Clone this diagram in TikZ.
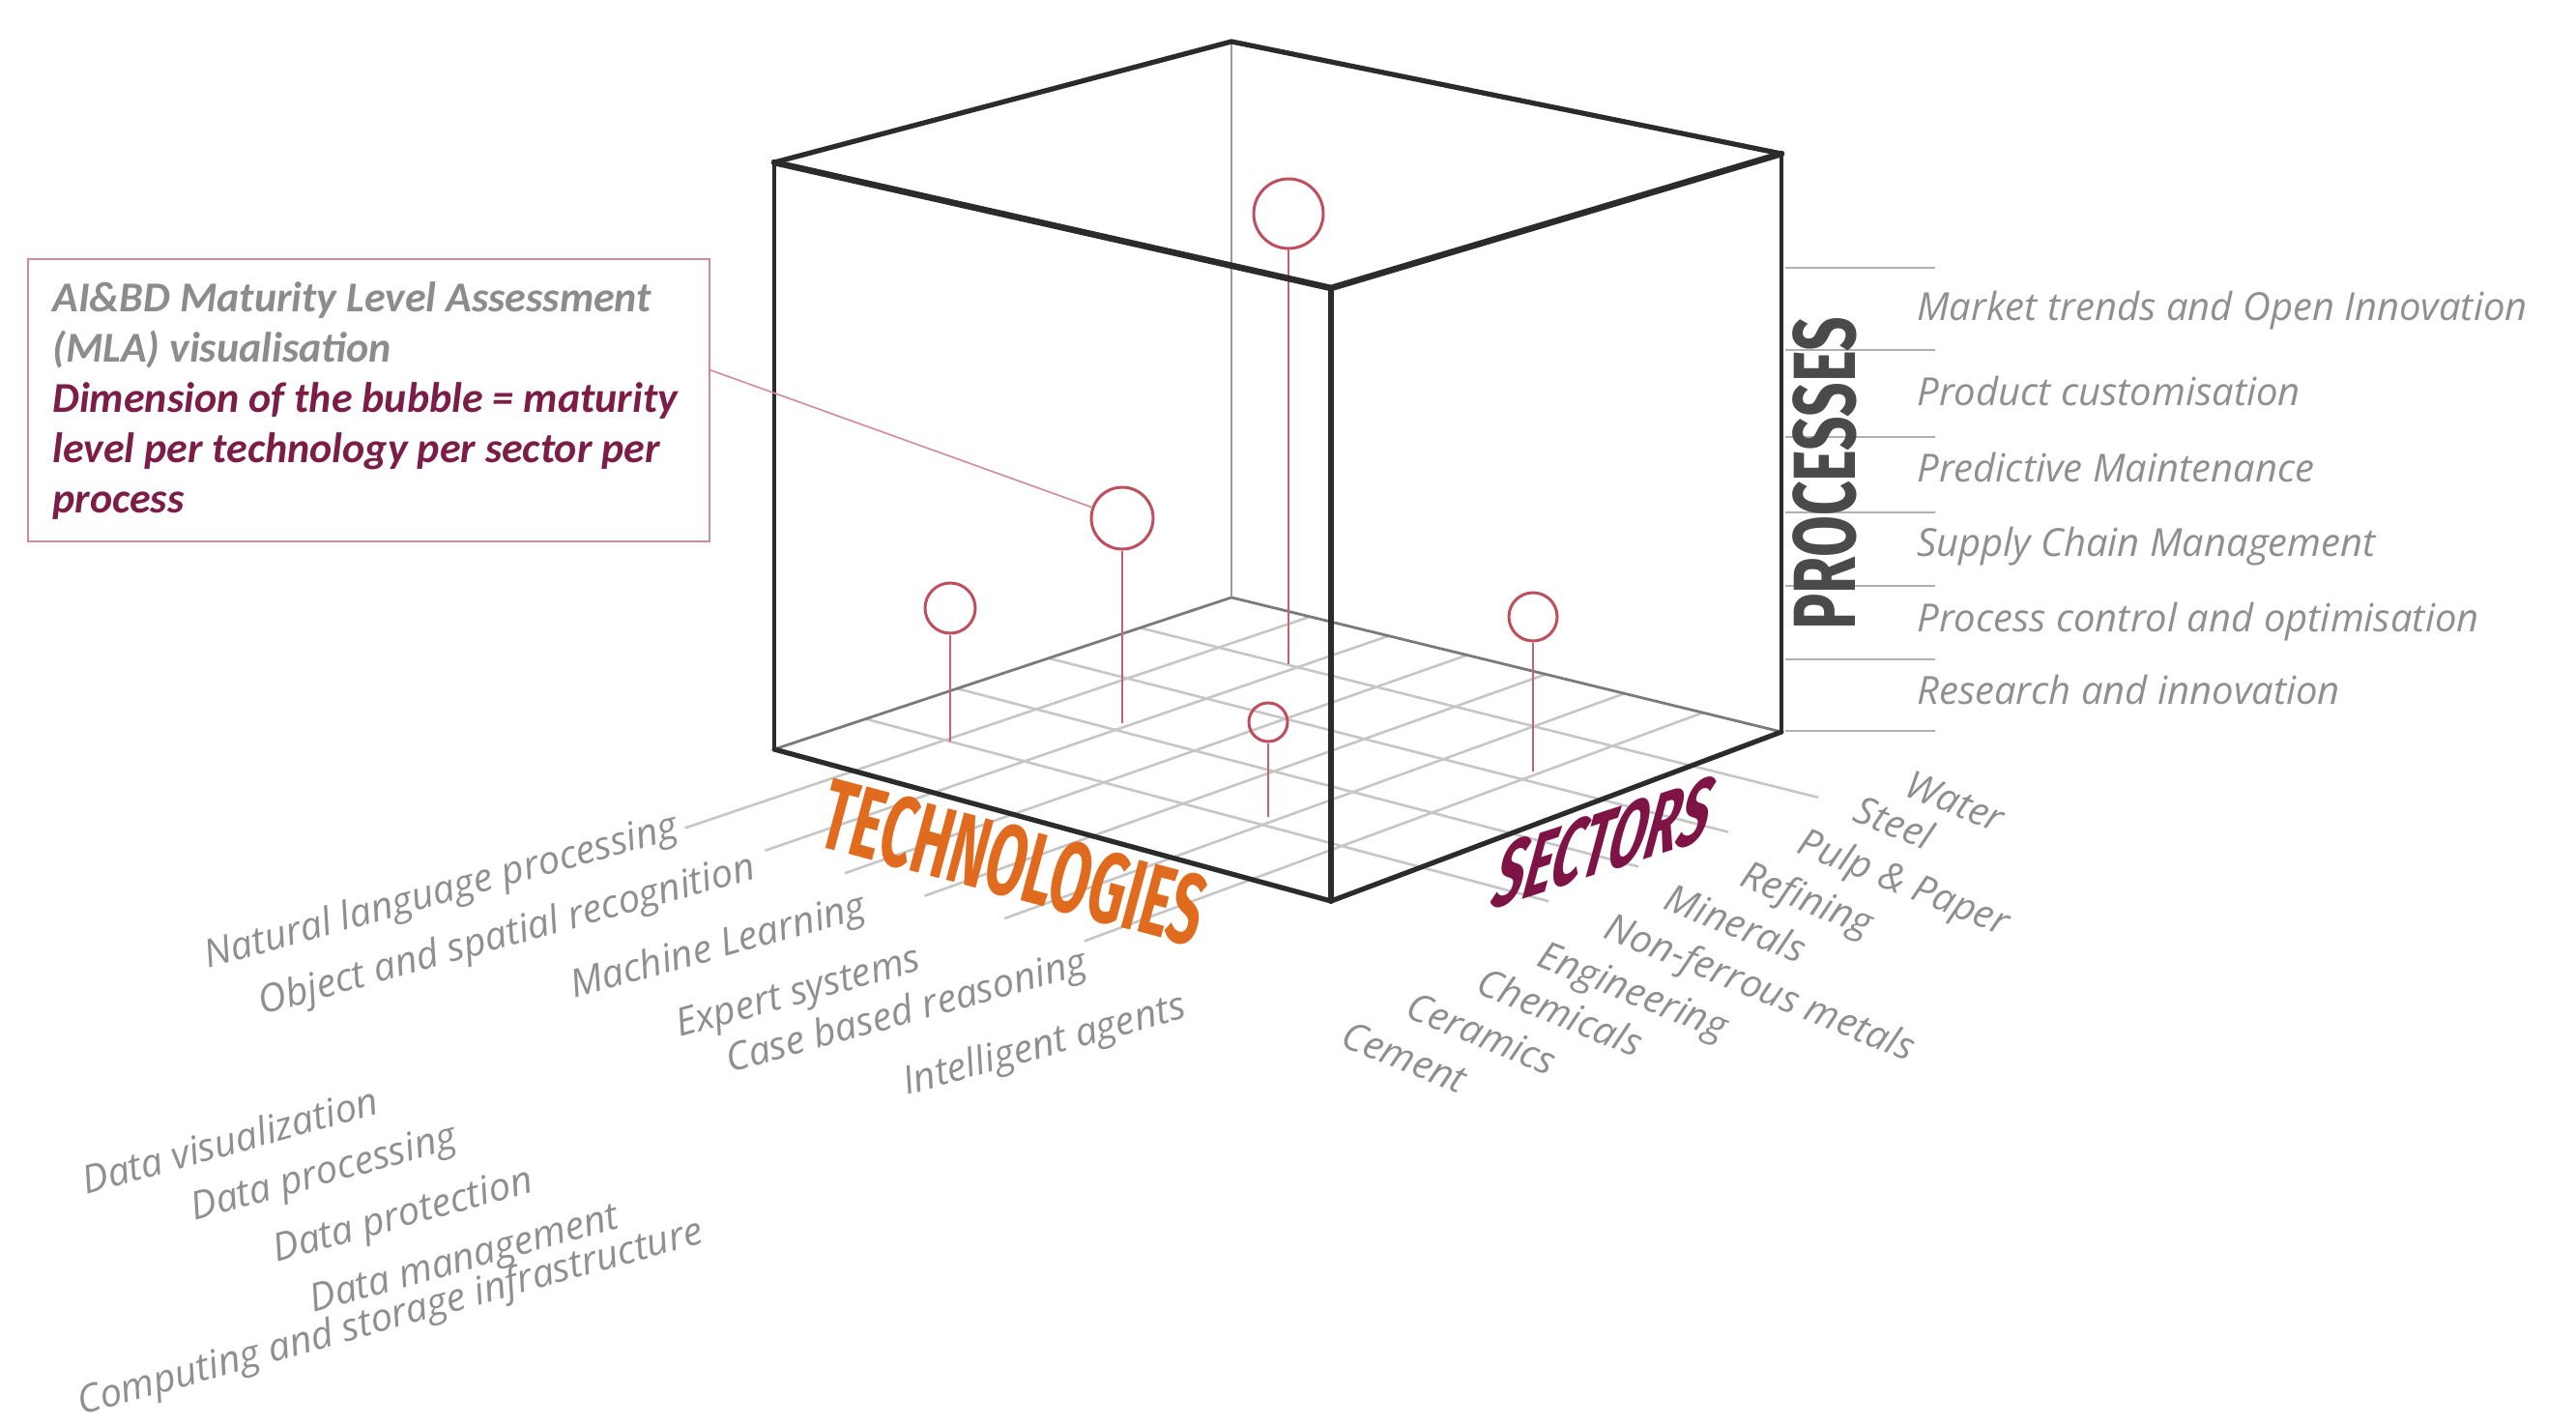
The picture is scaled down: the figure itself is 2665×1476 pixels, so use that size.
\documentclass[tikz,border=0pt]{standalone}
\usepackage{fontspec}
\usetikzlibrary{calc}
\newfontfamily\labfam{Open Sans}
\newfontfamily\callfam{Carlito}
\newfontfamily\condfam{Fira Sans}[FakeStretch=0.68]
\newfontfamily\narrowfam{Fira Sans}[FakeStretch=0.57]
\definecolor{labgrey}{HTML}{8F8F8F}
\definecolor{callgrey}{HTML}{8C8C8C}
\definecolor{maroon}{HTML}{7B1D46}
\definecolor{techorange}{HTML}{E06B1F}
\definecolor{sectcol}{HTML}{7E1445}
\definecolor{procgrey}{HTML}{4A4A4A}
\definecolor{bubred}{HTML}{BF4F5E}
\definecolor{stickred}{HTML}{C4636F}
\definecolor{gridgrey}{HTML}{C6C6C6}
\definecolor{edgedark}{HTML}{2B2B2B}
\definecolor{backgrey}{HTML}{7A7A7A}
\definecolor{boxpink}{HTML}{D38A98}
\definecolor{tickgrey}{HTML}{B0B0B0}
\begin{document}
\begin{tikzpicture}[x=0.5pt,y=0.5pt,
  gridline/.style={draw=gridgrey,line width=1.3pt},
  backedge/.style={draw=backgrey,line width=1.4pt},
  backvert/.style={draw=gray!80,line width=0.8pt},
  frontedge/.style={draw=edgedark,line width=2.6pt,line cap=round,line join=round},
  vertedge/.style={draw=edgedark,line width=2pt},
  topedge/.style={draw=edgedark,line width=3pt,line cap=round,line join=round},
  bubble/.style={circle,draw=bubred,line width=1.5pt,inner sep=0pt},
  stick/.style={draw=stickred,line width=1pt},
  tickline/.style={draw=tickgrey,line width=1pt},
  lab/.style={font=\labfam\itshape\fontsize{20}{24}\selectfont,text=labgrey,inner sep=0pt},
  proclab/.style={lab,anchor=base west},
  techlab/.style={lab,anchor=base west,rotate=15.5},
  sectlab/.style={lab,anchor=north west,rotate=-22},
  bigword/.style={inner sep=0pt},
  callbox/.style={draw=boxpink,line width=1pt,inner sep=0pt},
  calltext/.style={font=\callfam\bfseries\itshape\fontsize{22}{26}\selectfont,align=left,inner sep=0pt,text=callgrey},
  callline/.style={draw=boxpink,line width=0.8pt}
]
\useasboundingbox (0,0) rectangle (2665,-1476);
\fill[white] (0,0) rectangle (2665,-1476);

% cube corners
\coordinate (TB) at (1274,-43);
\coordinate (TL) at (801,-168);
\coordinate (TR) at (1843,-159);
\coordinate (TF) at (1377,-298);
\coordinate (BB) at (1274,-618);
\coordinate (BL) at (801,-775);
\coordinate (BR) at (1843,-757);
\coordinate (BF) at (1377,-932);

% floor grid (with guide extensions)
\foreach \u in {0.2,0.4,0.6,0.8}{
  \coordinate (gp) at ($(BB)!\u!(BL)$);
  \coordinate (gq) at ($(BR)!\u!(BF)$);
  \draw[gridline] (gp) -- ($(gp)!1.23!(gq)$);
}
\foreach \v in {1,...,6}{
  \coordinate (gp) at ($(BB)!{\v/7}!(BR)$);
  \coordinate (gq) at ($(BL)!{\v/7}!(BF)$);
  \draw[gridline] (gp) -- ($(gp)!1.37!(gq)$);
}

% back edges
\draw[backedge] (BL) -- (BB) -- (BR);
\draw[backvert] (TB) -- (BB);

% bubbles and sticks
\node[bubble,minimum size=36pt] (bt) at (1333,-221) {};
\node[bubble,minimum size=32pt] (bb) at (1161,-536) {};
\node[bubble,minimum size=26pt] (ba) at (983,-629) {};
\node[bubble,minimum size=20pt] (bc) at (1312,-747) {};
\node[bubble,minimum size=25pt] (bd) at (1586,-638) {};
\coordinate (ft) at (1333,-687);
\coordinate (fb) at (1161,-748);
\coordinate (fa) at (983,-767);
\coordinate (fc) at (1312,-845);
\coordinate (fd) at (1586,-798);
\draw[stick] (bt.south) -- (ft);
\draw[stick] (bb.south) -- (fb);
\draw[stick] (ba.south) -- (fa);
\draw[stick] (bc.south) -- (fc);
\draw[stick] (bd.south) -- (fd);

% front edges
\draw[frontedge] (BL) -- (BF) -- (BR);
\draw[vertedge] (TL) -- (BL);
\draw[vertedge] (TR) -- (BR);
\draw[frontedge,line width=3pt] (TF) -- (BF);
\draw[topedge,line width=2.6pt] (TL) -- (TB) -- (TR);
\draw[topedge,line width=3.3pt] (TL) -- (TF) -- (TR);

% callout
\node[callbox,minimum width=352.5pt,minimum height=146pt] (box) at (381.5,-414) {};
\node[calltext,anchor=north west] (ctext) at (54,-291)
  {AI\&BD Maturity Level Assessment\\
   (MLA) visualisation\\
   \textcolor{maroon}{Dimension of the bubble = maturity}\\
   \textcolor{maroon}{level per technology per sector per}\\
   \textcolor{maroon}{process}};
\coordinate (cstart) at ($(box.north east)!0.394!(box.south east)$);
\draw[callline] (cstart) -- (bb);

% processes
\foreach \y in {277,362,452,530,606,682,756}
  \draw[tickline] (1847,-\y) -- (2002,-\y);
\node[bigword,text=procgrey,rotate=90,font=\condfam\bfseries\fontsize{45.7}{50}\selectfont] (proc) at (1888,-490) {PROCESSES};
\node[proclab] (p1) at (1983,-332) {Market trends and Open Innovation};
\node[proclab] (p2) at (1983,-420) {Product customisation};
\node[proclab] (p3) at (1983,-498) {Predictive Maintenance};
\node[proclab] (p4) at (1983,-575) {Supply Chain Management};
\node[proclab] (p5) at (1983,-653) {Process control and optimisation};
\node[proclab] (p6) at (1983,-728) {Research and innovation};

% big axis words
\begin{scope}[shift={(1049,-892)},cm={0.966,-0.259,0.259,0.966,(0,0)}]
  \node[bigword,text=techorange,transform shape,font=\narrowfam\bfseries\fontsize{52}{56}\selectfont] (tech) at (0,0) {TECHNOLOGIES};
\end{scope}
\begin{scope}[shift={(1660,-871)},cm={0.951,0.310,0.259,0.966,(0,0)}]
  \node[bigword,text=sectcol,transform shape,font=\narrowfam\bfseries\fontsize{51}{55}\selectfont] (sect) at (0,0) {SECTORS};
\end{scope}

% technologies
\node[techlab] (t1) at (215,-1002) {Natural language processing};
\node[techlab] (t2) at (271,-1050) {Object and spatial recognition};
\node[techlab] (t3) at (594,-1033) {Machine Learning};
\node[techlab] (t4) at (703,-1073) {Expert systems};
\node[techlab] (t5) at (755,-1110) {Case based reasoning};
\node[techlab] (t6) at (938,-1133) {Intelligent agents};
\node[techlab] (d1) at (89,-1236) {Data visualization};
\node[techlab] (d2) at (201,-1263) {Data processing};
\node[techlab] (d3) at (286,-1306) {Data protection};
\node[techlab] (d4) at (324,-1358) {Data management};
\node[techlab] (d5) at (84,-1464) {Computing and storage infrastructure};

% sectors
\node[sectlab] (s1) at (1979,-795) {Water};
\node[sectlab] (s2) at (1927,-820) {Steel};
\node[sectlab] (s3) at (1869,-853) {Pulp \& Paper};
\node[sectlab] (s4) at (1810,-887) {Refining};
\node[sectlab] (s5) at (1731,-911) {Minerals};
\node[sectlab] (s6) at (1669,-941) {Non-ferrous metals};
\node[sectlab] (s7) at (1599,-971) {Engineering};
\node[sectlab] (s8) at (1537,-998) {Chemicals};
\node[sectlab] (s9) at (1463,-1024) {Ceramics};
\node[sectlab] (s10) at (1396,-1054) {Cement};
\end{tikzpicture}
\end{document}
